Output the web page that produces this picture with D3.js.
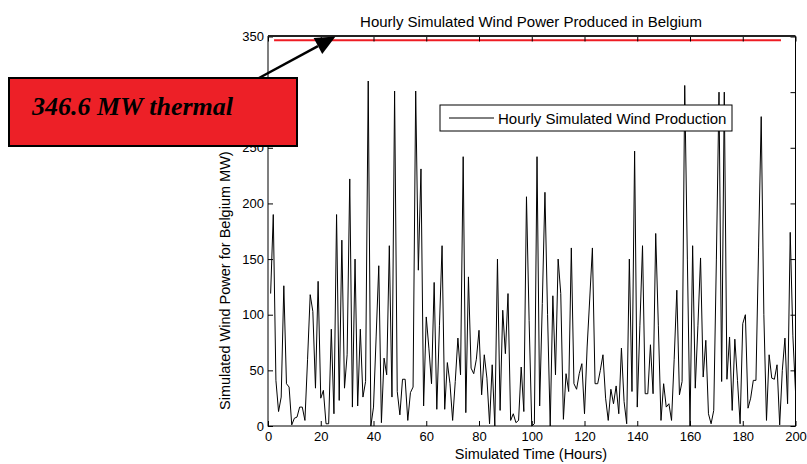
<!DOCTYPE html>
<html><head><meta charset="utf-8">
<script src="https://cdn.jsdelivr.net/npm/d3@7"></script>
<style>
body{margin:0;background:#fff}
svg{display:block}
text{font-family:"Liberation Sans",Arial,Helvetica,sans-serif;fill:#000}
</style>
</head><body><svg id="c" width="807" height="464"></svg>
<script>
// ---------- data ----------
const hours = d3.range(1, 201);
const windMW = [
119,190,41,13,26,126,38,35,1,7, 8,17,17,5,60,118,103,34,130,25,
32,2,2,87,11,190,23,167,34,64, 222,17,150,18,87,26,40,310,0,17,
80,144,3,61,46,162,26,301,31,10, 42,42,5,30,35,301,140,231,18,98,
70,38,129,15,90,162,15,57,38,5, 40,79,46,242,12,134,52,47,60,86,
28,64,43,2,55,0,150,14,104,65, 119,5,11,3,5,53,13,206,95,0,
2,242,18,110,210,100,0,117,46,150, 119,6,47,31,160,38,33,47,56,11,
71,115,160,38,38,50,64,25,5,33, 20,36,11,70,22,2,150,31,247,17,
90,162,29,29,73,29,173,90,5,38, 17,20,5,60,122,28,40,306,150,0,
162,34,90,151,44,77,11,2,14,150, 300,40,300,42,80,14,78,41,2,92,
100,16,25,41,41,160,278,100,5,64, 43,42,55,1,50,79,20,174,81,31
];
const xTicks = [0,20,40,60,80,100,120,140,160,180,200];
const yTicks = [0,50,100,150,200,250,300,350];
const thermalMW = 346.6;
const thermalSpan = [2.3, 194.5];
const titleText = "Hourly Simulated Wind Power Produced in Belgium";
const xLabel = "Simulated Time (Hours)";
const yLabel = "Simulated Wind Power for Belgium MW)";
const legendLabel = "Hourly Simulated Wind Production";
const noteText = "346.6 MW thermal";

// ---------- layout ----------
const L = 268, R = 795.5, T = 36.5, B = 426;
const svg = d3.select("#c");
const x = d3.scaleLinear().domain([0, 200]).range([L, R]);
const y = d3.scaleLinear().domain([0, 350]).range([B, T]);

// data line
const line = d3.line().x((d, i) => x(hours[i])).y(d => y(d));
svg.append("path").datum(windMW)
  .attr("d", line).attr("fill", "none")
  .attr("stroke", "#000").attr("stroke-width", 1).attr("stroke-linejoin", "miter");

// thermal line
svg.append("line")
  .attr("x1", x(thermalSpan[0])).attr("x2", x(thermalSpan[1]))
  .attr("y1", y(thermalMW)).attr("y2", y(thermalMW))
  .attr("stroke", "#ee1c24").attr("stroke-width", 2);

// axes
function style(g) {
  g.select(".domain").remove();
  g.selectAll("line").attr("stroke", "#000");
  g.selectAll("text").style("font-size", "13px").attr("fill", "#000");
}
svg.append("g").attr("transform", `translate(0,${B})`)
  .call(d3.axisBottom(x).tickValues(xTicks).tickSize(-5).tickPadding(6).tickFormat(d3.format("d")))
  .call(style);
svg.append("g").attr("transform", `translate(0,${T})`)
  .call(d3.axisTop(x).tickValues(xTicks).tickSize(-5).tickFormat(""))
  .call(style);
svg.append("g").attr("transform", `translate(${L},0)`)
  .call(d3.axisLeft(y).tickValues(yTicks).tickSize(-5).tickPadding(4).tickFormat(d3.format("d")))
  .call(style);
svg.append("g").attr("transform", `translate(${R},0)`)
  .call(d3.axisRight(y).tickValues(yTicks).tickSize(-5).tickFormat(""))
  .call(style);
svg.append("rect").attr("x", L).attr("y", T).attr("width", R - L).attr("height", B - T)
  .attr("fill", "none").attr("stroke", "#000").attr("stroke-width", 1);
svg.append("line").attr("x1", L).attr("x2", R).attr("y1", T - 0.5).attr("y2", T - 0.5)
  .attr("stroke", "#222").attr("stroke-width", 2);

// title & labels
svg.append("text").attr("x", 531).attr("y", 26.5).attr("text-anchor", "middle")
  .style("font-size", "15px").text(titleText);
svg.append("text").attr("x", 531).attr("y", 459).attr("text-anchor", "middle")
  .style("font-size", "14.5px").text(xLabel);
svg.append("text").attr("transform", "translate(229.5,410) rotate(-90)")
  .attr("text-anchor", "start").style("font-size", "14.5px").text(yLabel);

// legend
const lg = svg.append("g");
lg.append("rect").attr("x", 440).attr("y", 105).attr("width", 292).attr("height", 26)
  .attr("fill", "#fff").attr("stroke", "#000").attr("stroke-width", 1);
lg.append("line").attr("x1", 449).attr("x2", 494).attr("y1", 118).attr("y2", 118)
  .attr("stroke", "#000").attr("stroke-width", 1);
lg.append("text").attr("x", 498).attr("y", 123.5).style("font-size", "15px").text(legendLabel);

// annotation box + arrow
svg.append("rect").attr("x", 9).attr("y", 78).attr("width", 288).attr("height", 68)
  .attr("fill", "#ed2027").attr("stroke", "#000").attr("stroke-width", 2);
svg.append("text").attr("x", 32).attr("y", 115)
  .style("font-family", "'Liberation Serif','Times New Roman',serif")
  .style("font-weight", "bold").style("font-style", "italic").style("font-size", "26px")
  .text(noteText);

const S = [259, 78];
const Tp = [x(25.6), y(350)];
const dx = Tp[0] - S[0], dy = Tp[1] - S[1], len = Math.hypot(dx, dy);
const ux = dx / len, uy = dy / len, hl = 20, hw = 9;
const bx = Tp[0] - ux * hl, by = Tp[1] - uy * hl;
svg.append("line").attr("x1", S[0]).attr("y1", S[1]).attr("x2", bx).attr("y2", by)
  .attr("stroke", "#000").attr("stroke-width", 2.5);
svg.append("path")
  .attr("d", `M${Tp[0]},${Tp[1]}L${bx - uy * hw},${by + ux * hw}L${bx + uy * hw},${by - ux * hw}Z`)
  .attr("fill", "#000");
</script>
</body></html>
